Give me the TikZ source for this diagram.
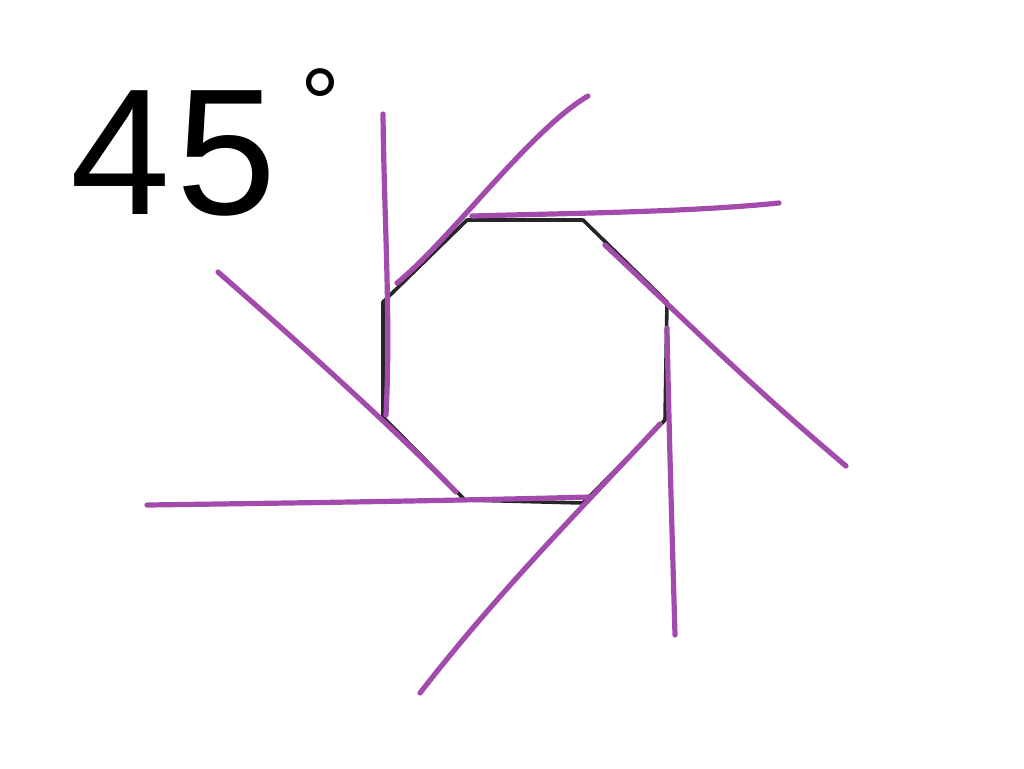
\documentclass[tikz,border=0pt]{standalone}
\usepackage{fontspec}
\setmainfont{Liberation Sans}
\definecolor{pline}{HTML}{A24BAC}
\tikzset{
  octo/.style={draw=black!85, line width=1.8pt, line join=round},
  ext/.style={draw=pline, line width=2.6pt, line cap=round, line join=round},
  lbl/.style={font=\fontsize{90}{90}\selectfont, inner sep=0pt, anchor=base west}
}
\begin{document}
\begin{tikzpicture}[x=0.5pt, y=-0.5pt]
\useasboundingbox (0,0) rectangle (1024,768);
% octagon vertices
\coordinate (v1) at (467,220);
\coordinate (v2) at (583,220);
\coordinate (v3) at (667,302);
\coordinate (v4) at (665,420);
\coordinate (v5) at (583,503);
\coordinate (v6) at (465,500);
\coordinate (v7) at (383,417);
\coordinate (v8) at (383,302);
\draw[octo] (v1) -- (v2) -- (v3) -- (v4) -- (v5) -- (v6) -- (v7) -- (v8) -- cycle;
% free ends of the purple extensions
\coordinate (a1) at (472,216); \coordinate (b1) at (779,203);
\coordinate (a2) at (605,245); \coordinate (b2) at (846,466);
\coordinate (a3) at (667,328); \coordinate (b3) at (675,635);
\coordinate (a4) at (660,424); \coordinate (b4) at (420,693);
\coordinate (a5) at (590,497); \coordinate (b5) at (147,505);
\coordinate (a6) at (456,492); \coordinate (b6) at (218,272);
\coordinate (a7) at (386,415); \coordinate (b7) at (383,114);
\coordinate (a8) at (397,283); \coordinate (b8) at (588,96);
\draw[ext] (a1) .. controls (580,213) and (690,212) .. (b1);
\draw[ext] (a2) .. controls (690,325) and (750,385) .. (b2);
\draw[ext] (a3) .. controls (669,430) and (672,530) .. (b3);
\draw[ext] (a4) .. controls (580,510) and (500,590) .. (b4);
\draw[ext] (a5) .. controls (440,501) and (290,503) .. (b5);
\draw[ext] (a6) .. controls (380,415) and (290,335) .. (b6);
\draw[ext] (a7) .. controls (391,320) and (384,215) .. (b7);
\draw[ext] (a8) .. controls (450,240) and (530,130) .. (b8);
% label
\node[lbl] (t) at (70,214) {4\hspace{3pt}5\hspace{12pt}\raisebox{38pt}{\fontsize{50}{50}\selectfont °}};
\end{tikzpicture}
\end{document}
